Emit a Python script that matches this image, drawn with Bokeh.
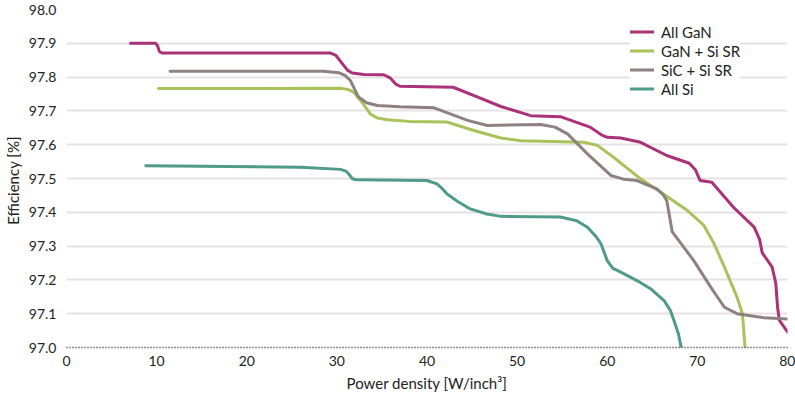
from bokeh.plotting import figure
from bokeh.models import Legend, LegendItem, FixedTicker, Range1d, CustomJSTickFormatter
from bokeh.embed import file_html
from bokeh.resources import INLINE

# ---- data ----
gan_x = [7.1, 9.9, 10.1, 10.3, 10.6, 29.3, 29.9, 30.6, 31.2, 31.7, 33.0, 35.2, 35.9, 36.5, 37.0,
         42.9, 45.5, 48.2, 51.5, 54.8, 58.1, 59.3, 60.0, 61.5, 63.7, 66.6, 69.1, 69.8, 70.3, 71.6,
         74.0, 76.3, 76.9, 77.2, 78.3, 78.7, 78.9, 79.1, 80.0]
gan_y = [97.900, 97.900, 97.893, 97.876, 97.871, 97.871, 97.864, 97.840, 97.820, 97.812, 97.808,
         97.807, 97.798, 97.780, 97.773, 97.770, 97.742, 97.713, 97.686, 97.683, 97.652, 97.630,
         97.622, 97.620, 97.607, 97.568, 97.545, 97.525, 97.494, 97.489, 97.415, 97.356, 97.320,
         97.280, 97.238, 97.190, 97.119, 97.080, 97.046]

gsi_x = [10.2, 30.4, 31.3, 31.9, 32.8, 33.7, 34.5, 35.6, 38.0, 42.2, 45.2, 48.2, 50.4, 57.4,
         58.9, 60.7, 63.7, 65.9, 68.9, 70.7, 71.8, 73.0, 74.4, 75.0, 75.2, 75.3]
gsi_y = [97.766, 97.767, 97.763, 97.755, 97.725, 97.691, 97.679, 97.674, 97.669, 97.667, 97.642,
         97.620, 97.612, 97.607, 97.598, 97.563, 97.499, 97.460, 97.405, 97.362, 97.310, 97.238,
         97.149, 97.100, 97.030, 97.000]

sic_x = [11.5, 28.5, 30.2, 30.9, 31.5, 32.0, 32.4, 33.3, 34.5, 37.0, 40.8, 42.5, 44.5, 46.7,
         52.6, 54.2, 55.6, 57.8, 60.4, 61.8, 63.3, 65.5, 66.2, 66.6, 66.9, 67.2, 69.6, 71.5, 73.0,
         74.4, 77.4, 80.0]
sic_y = [97.817, 97.817, 97.813, 97.805, 97.790, 97.762, 97.741, 97.724, 97.716, 97.712, 97.709,
         97.692, 97.672, 97.657, 97.660, 97.652, 97.632, 97.573, 97.509, 97.498, 97.494, 97.469,
         97.452, 97.435, 97.390, 97.343, 97.257, 97.178, 97.119, 97.100, 97.088, 97.084]

si_x = [8.8, 26.0, 30.4, 31.0, 31.3, 31.7, 32.1, 40.0, 41.1, 41.7, 42.2, 43.4, 44.8, 46.5, 48.2,
        54.8, 56.6, 57.8, 58.7, 59.3, 60.0, 60.6, 61.5, 63.3, 64.8, 66.3, 67.0, 67.4, 67.9, 68.2]
si_y = [97.538, 97.533, 97.527, 97.522, 97.514, 97.500, 97.496, 97.494, 97.484, 97.470, 97.455,
        97.432, 97.410, 97.396, 97.388, 97.386, 97.375, 97.356, 97.330, 97.307, 97.257, 97.235,
        97.223, 97.198, 97.174, 97.139, 97.110, 97.080, 97.040, 97.000]

series_names = ["All GaN", "GaN + Si SR", "SiC + Si SR", "All Si"]
x_ticks = [0, 10, 20, 30, 40, 50, 60, 70, 80]
y_ticks = [97.0, 97.1, 97.2, 97.3, 97.4, 97.5, 97.6, 97.7, 97.8, 97.9, 98.0]

colors = ["#aa3278", "#a9c35a", "#908080", "#4f9b87"]
FONT = "Lato"

p = figure(width=795, height=394, output_backend="svg", toolbar_location=None,
           x_range=Range1d(0, 80), y_range=Range1d(97.0, 98.0),
           min_border_left=66, min_border_right=8, min_border_top=9, min_border_bottom=47)
p.outline_line_color = None

renderers = []
for xs, ys, c in zip([gan_x, gsi_x, sic_x, si_x], [gan_y, gsi_y, sic_y, si_y], colors):
    r = p.line(xs, ys, line_color=c, line_width=3, line_join="round", line_cap="round")
    renderers.append(r)

# axes
p.xaxis.ticker = FixedTicker(ticks=x_ticks)
p.yaxis.ticker = FixedTicker(ticks=y_ticks)
p.yaxis.formatter = CustomJSTickFormatter(code="return tick.toFixed(1);")
for ax in (p.xaxis, p.yaxis):
    ax.major_tick_line_color = None
    ax.minor_tick_line_color = None
    ax.major_label_text_font = FONT
    ax.major_label_text_font_size = "14px"
    ax.major_label_text_color = "#222222"
    ax.axis_label_text_font = FONT
    ax.axis_label_text_font_size = "15px"
    ax.axis_label_text_font_style = "normal"
    ax.axis_label_text_color = "#222222"
p.yaxis.axis_line_color = None
p.yaxis.major_label_standoff = 4
p.xaxis.axis_line_color = "#222222"
p.xaxis.axis_line_dash = "1 2"
p.xaxis.axis_line_width = 1.5
p.xaxis.major_label_standoff = 2
p.xaxis.axis_label = "Power density [W/inch³]"
p.yaxis.axis_label = "Efficiency  [%]"
p.xaxis.axis_label_standoff = 5
p.yaxis.axis_label_standoff = 4

p.xgrid.grid_line_color = None
p.ygrid.ticker = FixedTicker(ticks=y_ticks[1:])
p.ygrid.grid_line_color = "#e6e2e4"
p.ygrid.grid_line_width = 2

legend = Legend(items=[LegendItem(label=n, renderers=[r]) for n, r in zip(series_names, renderers)],
                location=(564, 249))
legend.label_text_font = FONT
legend.label_text_font_size = "15px"
legend.label_text_color = "#222222"
legend.glyph_width = 24
legend.glyph_height = 19
legend.label_height = 19
legend.label_standoff = 7
legend.spacing = 0
legend.padding = 8
legend.margin = 0
legend.border_line_color = None
legend.background_fill_color = "white"
legend.background_fill_alpha = 1.0
p.add_layout(legend, "center")

open("out.html", "w").write(file_html(p, INLINE))
